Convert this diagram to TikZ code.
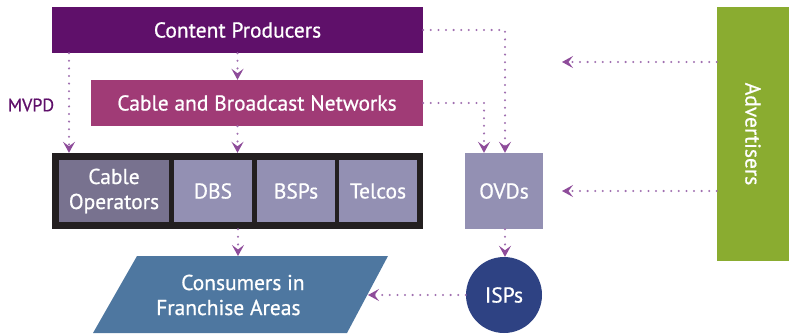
\documentclass[tikz,border=0pt]{standalone}
\usepackage{fontspec}
\setmainfont{PT Sans}[FakeBold=0.7]
\usetikzlibrary{arrows.meta}
\definecolor{cpcol}{HTML}{5F106A}
\definecolor{cbncol}{HTML}{A03B76}
\definecolor{framecol}{HTML}{231F20}
\definecolor{cabcol}{HTML}{78728F}
\definecolor{boxcol}{HTML}{9390B3}
\definecolor{ispcol}{HTML}{2E4283}
\definecolor{advcol}{HTML}{8AAC30}
\definecolor{concol}{HTML}{4E77A0}
\definecolor{dotcol}{HTML}{A070B0}
\definecolor{tipcol}{HTML}{8E4C9A}
\begin{document}
\begin{tikzpicture}[x=1pt,y=-1pt,
  every node/.style={font=\fontsize{21.5}{25}\selectfont, text=white, inner sep=0pt, align=center},
  box/.style={rectangle, minimum width=#1},
  flow/.style={draw=dotcol, line width=2.3pt, line cap=round, dash pattern=on 0pt off 7.6pt,
     -{Stealth[length=11pt,width=12pt,inset=4.5pt,fill=tipcol,color=tipcol]}},
]
\useasboundingbox (0,0) rectangle (789,334);
\node[box=371pt, minimum height=46pt, fill=cpcol] (cp) at (237.5,30) {Content Producers};
\node[box=332pt, minimum height=46pt, fill=cbncol] (cbn) at (257,103) {Cable and Broadcast Networks};
\node[box=371pt, minimum height=76pt, fill=framecol] (frame) at (237.5,191) {};
\node[box=110pt, minimum height=62pt, fill=cabcol] (cab) at (114,191) {Cable\\Operators};
\node[box=78pt, minimum height=62pt, fill=boxcol] (dbs) at (213,191) {DBS};
\node[box=78pt, minimum height=62pt, fill=boxcol] (bsp) at (296,191) {BSPs};
\node[box=78pt, minimum height=62pt, fill=boxcol] (tel) at (378,191) {Telcos};
\node[box=78pt, minimum height=76pt, fill=boxcol] (ovd) at (504,191) {OVDs};
\node[circle, minimum size=76pt, fill=ispcol] (isp) at (504,295) {ISPs};
\node[box=72pt, minimum height=254pt, fill=advcol] (adv) at (753,134) {};
\node[rotate=-90] (advt) at (adv.center) {Advertisers};
\fill[concol] (93,333) -- (137,256) -- (388,256) -- (347,333) -- cycle;
\node[anchor=west, align=left] (con) at (156,295) {\hspace*{25pt}Consumers in\\Franchise Areas};
\coordinate (conTop) at (238,256);
\coordinate (conR) at (368,295);
\node[text=cpcol, font=\fontsize{18}{20}\selectfont] (mvpd) at (31,105) {MVPD};
\coordinate (m) at (69,0);
\coordinate (a1) at (562,62);
\coordinate (a2) at (562,191);
\draw[flow] (cp.south) -- (cbn.north -| cp.south);
\draw[flow] (cbn.south -| cp.south) -- (frame.north -| cp.south);
\draw[flow] (cp.south -| m) -- (frame.north -| m);
\draw[flow] (frame.south -| conTop) -- (conTop);
\draw[flow] (cp.east) -| ([xshift=1pt]ovd.north);
\draw[flow] (cbn.east) -| ([xshift=-20pt]ovd.north);
\draw[flow] (adv.west |- a1) -- (a1);
\draw[flow] (adv.west |- a2) -- (a2);
\draw[flow] ([xshift=1pt]ovd.south) -- ([xshift=1pt]isp.north);
\draw[flow] (isp.west) -- (conR);
\end{tikzpicture}
\end{document}
